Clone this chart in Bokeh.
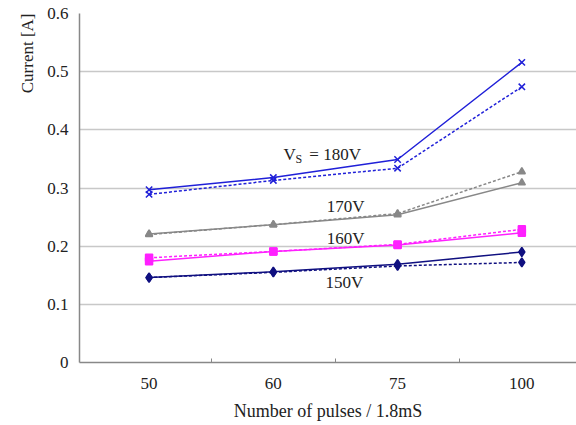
from bokeh.plotting import figure
from bokeh.models import Range1d, FixedTicker, Label, Title
from bokeh.embed import file_html
from bokeh.resources import INLINE

pulses = ["50", "60", "75", "100"]
xpos = [0, 1, 2, 3]

v180_solid = [0.297, 0.318, 0.349, 0.516]
v180_dash = [0.289, 0.313, 0.334, 0.474]
v170_solid = [0.221, 0.237, 0.254, 0.309]
v170_dash = [0.220, 0.237, 0.256, 0.328]
v160_solid = [0.174, 0.191, 0.202, 0.223]
v160_dash = [0.180, 0.191, 0.203, 0.229]
v150_solid = [0.146, 0.156, 0.169, 0.190]
v150_dash = [0.146, 0.155, 0.166, 0.172]

FONT = "Liberation Serif"

p = figure(width=576, height=425, output_backend="svg", toolbar_location=None,
           x_range=Range1d(-0.56, 3.44), y_range=Range1d(0, 0.6),
           min_border_left=79, min_border_right=0, min_border_top=13, min_border_bottom=63)
p.outline_line_color = None
p.background_fill_color = "white"

xa = p.xaxis[0]
xa.ticker = FixedTicker(ticks=xpos, minor_ticks=[0.5, 1.5, 2.5])
xa.major_label_overrides = {i: s for i, s in zip(xpos, pulses)}
xa.major_label_text_font = FONT
xa.major_label_text_font_size = "17px"
xa.major_label_text_color = "#222222"
xa.major_label_standoff = 15
xa.major_tick_in = 0
xa.major_tick_out = 0
xa.minor_tick_in = 4
xa.minor_tick_out = 0
xa.minor_tick_line_color = "#888888"
xa.axis_line_color = "#888888"
xa.axis_line_width = 1.5
xa.axis_label = "Number of pulses / 1.8mS"
xa.axis_label_text_font = FONT
xa.axis_label_text_font_style = "normal"
xa.axis_label_text_font_size = "18px"
xa.axis_label_text_color = "#222222"
xa.axis_label_standoff = 9

ya = p.yaxis[0]
ya.ticker = FixedTicker(ticks=[0, 0.1, 0.2, 0.3, 0.4, 0.5, 0.6])
ya.major_label_overrides = {0: "0"}
ya.major_label_text_font = FONT
ya.major_label_text_font_size = "17px"
ya.major_label_text_color = "#222222"
ya.major_label_standoff = 11
ya.major_tick_in = 0
ya.major_tick_out = 0
ya.minor_tick_in = 0
ya.minor_tick_out = 0
ya.axis_line_color = "#888888"
ya.axis_line_width = 1.5

p.add_layout(Title(text="Current [A]", align="right", text_font=FONT, text_font_size="17px",
                   text_font_style="normal", text_color="#222222", standoff=16), "left")

p.xgrid.grid_line_color = None
p.ygrid.ticker = FixedTicker(ticks=[0.1, 0.2, 0.3, 0.4, 0.5, 0.6])
p.ygrid.grid_line_color = "#c8c8c8"
p.ygrid.grid_line_width = 1.5

series = [
    (v180_solid, v180_dash, "#2020d8", "x", 9),
    (v170_solid, v170_dash, "#888888", "triangle", 7),
    (v160_solid, v160_dash, "#ff20ff", "square", 7),
    (v150_solid, v150_dash, "#101080", "diamond", 9),
]
for solid, dash, color, marker, size in series:
    p.line(xpos, dash, line_color=color, line_width=1.5, line_dash="3 2")
    p.line(xpos, solid, line_color=color, line_width=1.5)
    p.scatter(xpos, dash, marker=marker, size=size, line_color=color, fill_color=color, line_width=1.5)
    p.scatter(xpos, solid, marker=marker, size=size, line_color=color, fill_color=color, line_width=1.5)

labels = [
    ("V", 1.082, 0.358, "17px"),
    ("= 180V", 1.29, 0.358, "17px"),
    ("170V", 1.43, 0.268, "17px"),
    ("160V", 1.43, 0.214, "17px"),
    ("150V", 1.42, 0.137, "17px"),
]
for txt, x, y, fs in labels:
    p.add_layout(Label(x=x, y=y, text=txt, text_font=FONT, text_font_size=fs,
                       text_color="#222222", text_baseline="middle"))
p.add_layout(Label(x=1.178, y=0.350, text="S", text_font=FONT, text_font_size="12px",
                   text_color="#222222", text_baseline="middle"))

open("out.html", "w").write(file_html(p, INLINE))
